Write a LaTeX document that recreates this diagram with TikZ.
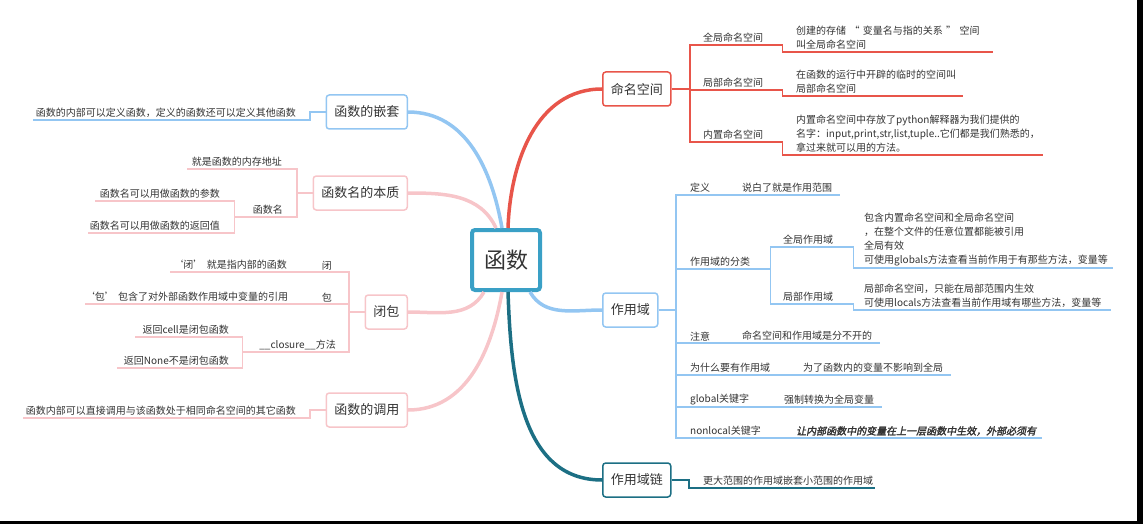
\documentclass[tikz,border=0pt]{standalone}
\usepackage{fontspec}
\setmainfont{Noto Sans CJK SC}
\newfontfamily\emfont{Noto Sans CJK SC}[FakeSlant=0.2,FakeBold=2]
\usepackage{xcolor}
\usepackage{tikz}
\usetikzlibrary{positioning}
\definecolor{rootblue}{HTML}{3AA0C6}
\definecolor{nsred}{HTML}{E8554A}
\definecolor{scblue}{HTML}{93C6F2}
\definecolor{pinkline}{HTML}{F7C5C9}
\definecolor{chteal}{HTML}{1C6F84}
\definecolor{txtgray}{HTML}{333333}
\tikzstyle{root} = [rectangle, rounded corners=3pt, draw=rootblue, line width=4pt, fill=white, minimum width=68pt, minimum height=60pt, font=\fontsize{22}{26}\selectfont]
\tikzstyle{topic} = [rectangle, rounded corners=3pt, line width=1.5pt, fill=white, minimum height=34pt, inner xsep=8pt, font=\fontsize{13}{15}\selectfont]
\tikzstyle{twig} = [anchor=south west, inner xsep=0pt, inner ysep=2pt, align=left, font=\fontsize{10}{14}\selectfont]
\tikzstyle{ltwig} = [twig, anchor=south east, align=right]
\tikzstyle{branch} = [draw, line width=3.5pt]
\tikzstyle{line} = [draw, line width=1.6pt]

\begin{document}
\begin{tikzpicture}[x=1pt, y=-1pt, text=txtgray]
    \useasboundingbox (0,0) rectangle (1143,524);
    \fill [black] (1137,0) rectangle (1143,524);
    \fill [black] (0,521) rectangle (1143,524);

    % Nodes
    \node [root] (fn) at (506,260) {函数};
    \node [topic, draw=nsred, anchor=west] (ns) at (602,89) {命名空间};
    \node [topic, draw=scblue, anchor=west] (scope) at (602,310) {作用域};
    \node [topic, draw=chteal, anchor=west] (chain) at (602,480) {作用域链};
    \node [topic, draw=scblue, anchor=east] (nest) at (408,112) {函数的嵌套};
    \node [topic, draw=pinkline, anchor=east] (fname) at (408,193) {函数名的本质};
    \node [topic, draw=pinkline, anchor=east] (closure) at (408,312) {闭包};
    \node [topic, draw=pinkline, anchor=east] (call) at (408,410) {函数的调用};

    % namespace
    \coordinate (nsT) at (690,89);
    \node [twig, text width=79pt] (gns) at (703,45) {全局命名空间};
    \node [twig, text width=197pt] (gnsd) at (796,52) {创建的存储~“~变量名与指的关系~”~空间\\叫全局命名空间};
    \node [twig, text width=79pt] (lns) at (703,90) {局部命名空间};
    \node [twig, text width=167pt] (lnsd) at (796,96) {在函数的运行中开辟的临时的空间叫\\局部命名空间};
    \node [twig, text width=79pt] (bns) at (703,142) {内置命名空间};
    \node [twig, text width=247pt] (bnsd) at (796,155) {内置命名空间中存放了python解释器为我们提供的\\名字：input,print,str,list,tuple..它们都是我们熟悉的，\\拿过来就可以用的方法。};

    % scope
    \coordinate (scT) at (676,310);
    \node [twig, text width=52pt] (def) at (690,195) {定义};
    \node [twig, text width=98pt] (defd) at (742,195) {说白了就是作用范围};
    \node [twig, text width=80pt] (cls) at (690,269) {作用域的分类};
    \node [twig, text width=70pt] (gsc) at (783,247) {全局作用域};
    \node [twig, text width=249pt] (gscd) at (864,268) {包含内置命名空间和全局命名空间\\，在整个文件的任意位置都能被引用\\全局有效\\可使用globals方法查看当前作用于有那些方法，变量等};
    \node [twig, text width=70pt] (lsc) at (783,304) {局部作用域};
    \node [twig, text width=247pt] (lscd) at (864,310) {局部命名空间，只能在局部范围内生效\\可使用locals方法查看当前作用域有哪些方法，变量等};
    \node [twig, text width=53pt] (note) at (690,343) {注意};
    \node [twig, text width=138pt] (noted) at (742,343) {命名空间和作用域是分不开的};
    \node [twig, text width=113pt] (why) at (690,375) {为什么要有作用域};
    \node [twig, text width=148pt] (whyd) at (803,375) {为了函数内的变量不影响到全局};
    \node [twig, text width=94pt] (glob) at (690,407) {global关键字};
    \node [twig, text width=98pt] (globd) at (784,407) {强制转换为全局变量};
    \node [twig, text width=106pt] (nonl) at (690,438) {nonlocal关键字};
    \node [twig, text width=246pt, font=\emfont\fontsize{10}{14}\selectfont] (nonld) at (796,438) {让内部函数中的变量在上一层函数中生效，外部必须有};

    % scope chain
    \coordinate (chT) at (689,480);
    \node [twig, text width=172pt] (chaind) at (703,488) {更大范围的作用域嵌套小范围的作用域};

    % left side
    \coordinate (neT) at (310,112);
    \node [ltwig, text width=263pt] (nestd) at (296,120) {函数的内部可以定义函数，定义的函数还可以定义其他函数};
    \coordinate (fnT) at (297,193);
    \node [ltwig, text width=95pt] (addr) at (282,169) {就是函数的内存地址};
    \node [ltwig, text width=48pt] (fnm) at (283,217) {函数名};
    \node [ltwig, text width=125pt] (par) at (220,201) {函数名可以用做函数的参数};
    \node [ltwig, text width=132pt] (ret) at (220,233) {函数名可以用做函数的返回值};
    \coordinate (clT) at (349,312);
    \node [ltwig, text width=20pt] (bi) at (332,272) {闭};
    \node [ltwig, text width=117pt] (bid) at (287,272) {‘闭’~就是指内部的函数};
    \node [ltwig, text width=20pt] (bao) at (332,304) {包};
    \node [ltwig, text width=202pt] (baod) at (287,304) {‘包’~包含了对外部函数作用域中变量的引用};
    \node [ltwig, text width=93pt] (clo) at (336,352) {\_\_closure\_\_方法};
    \node [ltwig, text width=94pt] (cell) at (229,337) {返回cell是闭包函数};
    \node [ltwig, text width=112pt] (none) at (229,368) {返回None不是闭包函数};
    \coordinate (caT) at (310,410);
    \node [ltwig, text width=273pt] (calld) at (296,418) {函数内部可以直接调用与该函数处于相同命名空间的其它函数};

    % Edges
    \path [branch, draw=nsred] ([xshift=2pt]fn.north) to [out=88, in=180] (ns.west);
    \path [branch, draw=scblue] ([xshift=-4pt]fn.north) to [out=100, in=0] (nest.east);
    \path [branch, draw=pinkline] ([xshift=-10pt]fn.north) to [out=115, in=0] (fname.east);
    \path [branch, draw=pinkline] ([xshift=-22pt]fn.south) to [out=240, in=0] (closure.east);
    \path [branch, draw=pinkline] ([xshift=-4pt]fn.south) to [out=260, in=0] (call.east);
    \path [branch, draw=scblue] ([xshift=24pt]fn.south) to [out=-60, in=180] (scope.west);
    \path [branch, draw=chteal] ([xshift=2pt]fn.south) to [out=-88, in=180] (chain.west);

    \path [line, draw=nsred] (ns.east) -- (nsT);
    \path [line, draw=nsred] (nsT) |- (gns.south east) |- (gnsd.south east);
    \path [line, draw=nsred] (nsT) |- (lns.south east) |- (lnsd.south east);
    \path [line, draw=nsred] (nsT) |- (bns.south east) |- (bnsd.south east);

    \path [line, draw=scblue] (scope.east) -- (scT);
    \path [line, draw=scblue] (scT) |- (defd.south east);
    \path [line, draw=scblue] (scT) |- (cls.south east);
    \path [line, draw=scblue] (cls.south east) |- (gsc.south east) |- (gscd.south east);
    \path [line, draw=scblue] (cls.south east) |- (lsc.south east) |- (lscd.south east);
    \path [line, draw=scblue] (scT) |- (noted.south east);
    \path [line, draw=scblue] (scT) |- (whyd.south east);
    \path [line, draw=scblue] (scT) |- (globd.south east);
    \path [line, draw=scblue] (scT) |- (nonld.south east);

    \path [line, draw=chteal] (chain.east) -- (chT) |- (chaind.south east);

    \path [line, draw=scblue] (nest.west) -- (neT) |- (nestd.south west);
    \path [line, draw=pinkline] (fname.west) -- (fnT);
    \path [line, draw=pinkline] (fnT) |- (addr.south west);
    \path [line, draw=pinkline] (fnT) |- (fnm.south west);
    \path [line, draw=pinkline] (fnm.south west) |- (par.south west);
    \path [line, draw=pinkline] (fnm.south west) |- (ret.south west);
    \path [line, draw=pinkline] (closure.west) -- (clT);
    \path [line, draw=pinkline] (clT) |- (bid.south west);
    \path [line, draw=pinkline] (clT) |- (baod.south west);
    \path [line, draw=pinkline] (clT) |- (clo.south west);
    \path [line, draw=pinkline] (clo.south west) |- (cell.south west);
    \path [line, draw=pinkline] (clo.south west) |- (none.south west);
    \path [line, draw=pinkline] (call.west) -- (caT) |- (calld.south west);
\end{tikzpicture}
\end{document}
